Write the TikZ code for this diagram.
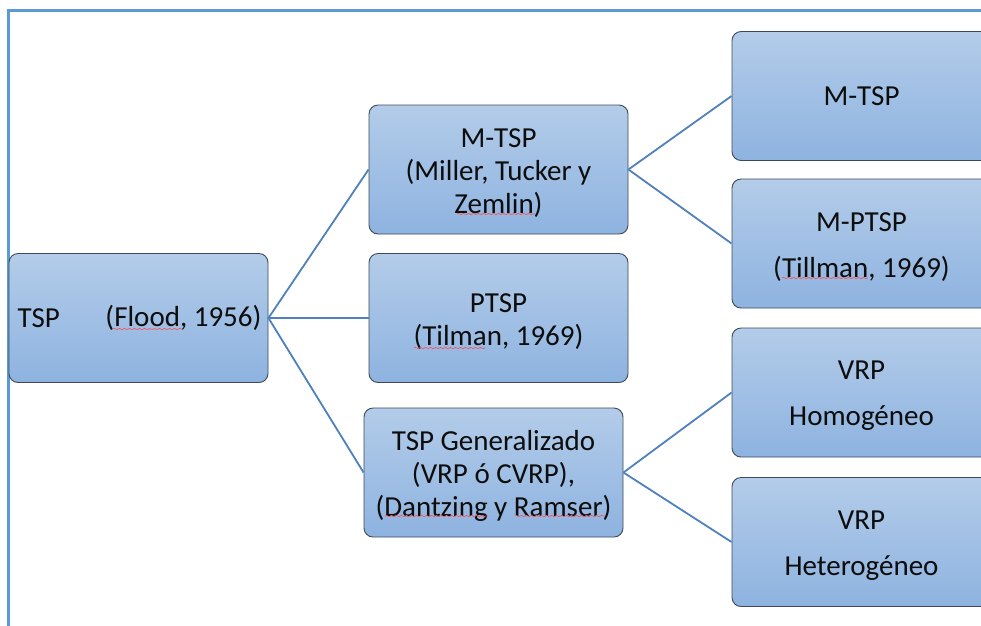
\documentclass[tikz,border=0pt]{standalone}
\usepackage{fontspec}
\setmainfont{Carlito}
\usetikzlibrary{decorations.pathmorphing}
\definecolor{frameblue}{HTML}{5B9BD5}
\definecolor{lineblue}{HTML}{4F81BD}
\definecolor{boxtop}{HTML}{B3CCE9}
\definecolor{boxbot}{HTML}{8EB3E0}
\definecolor{boxedge}{HTML}{3F4A57}
\tikzset{
  txt/.style={font=\fontsize{29}{33}\selectfont, text=black!95},
  box/.style={draw=boxedge, line width=0.9pt, rounded corners=9pt,
    top color=boxtop, bottom color=boxbot, minimum width=259pt, minimum height=129pt,
    inner sep=0pt},
  boxtext/.style={label={[txt, align=center, yshift=-3.5pt]center:#1}},
  conn/.style={draw=lineblue, line width=1.8pt},
  spell/.style={draw=red!70!white, line width=0.6pt, decorate,
    decoration={snake, amplitude=0.6pt, segment length=5pt}}
}
\begin{document}
\begin{tikzpicture}[x=1pt,y=-1pt]
\useasboundingbox (0,0) rectangle (981,625);
\clip (0,0) rectangle (981,625);
\fill[white] (0,0) rectangle (981,625);
\draw[frameblue, line width=3pt] (8.5,640) -- (8.5,10) -- (1000,10);
\node[box] (tsp) at (138.5,318) {};
\node[anchor=west, txt] (tspl) at (14,318) {TSP};
\node[anchor=east, txt] (tspr) at (265,318) {(Flood, 1956)};
\node[box, boxtext={M-TSP\\(Miller, Tucker y\\Zemlin)}] (mtsp) at (498.5,169.5) {};
\node[box, boxtext={PTSP\\(Tilman, 1969)}] (ptsp) at (498.5,318) {};
\node[box, boxtext={TSP Generalizado\\(VRP ó CVRP),\\(Dantzing y Ramser)}] (gen) at (493.5,472.5) {};
\node[box, txt] (mtsp2) at (861.5,96) {M-TSP};
\node[box, boxtext={M-PTSP\\[13pt](Tillman, 1969)}] (mptsp) at (861.5,243.5) {};
\node[box, boxtext={VRP\\[13pt]Homogéneo}] (vrph) at (861.5,392.5) {};
\node[box, boxtext={VRP\\[13pt]Heterogéneo}] (vrpx) at (861.5,542) {};
\draw[conn] (tsp.east) -- (mtsp.west);
\draw[conn] (tsp.east) -- (ptsp.west);
\draw[conn] (tsp.east) -- (gen.west);
\draw[conn] (mtsp.east) -- (mtsp2.west);
\draw[conn] (mtsp.east) -- (mptsp.west);
\draw[conn] (gen.east) -- (vrph.west);
\draw[conn] (gen.east) -- (vrpx.west);
\draw[spell] (113,329) -- (182,329);
\draw[spell] (457,214) -- (535,214);
\draw[spell] (414,348) -- (485,348);
\draw[spell] (782,278) -- (868,278);
\draw[spell] (385,516) -- (488,516);
\draw[spell] (515,516) -- (605,516);
\end{tikzpicture}
\end{document}
